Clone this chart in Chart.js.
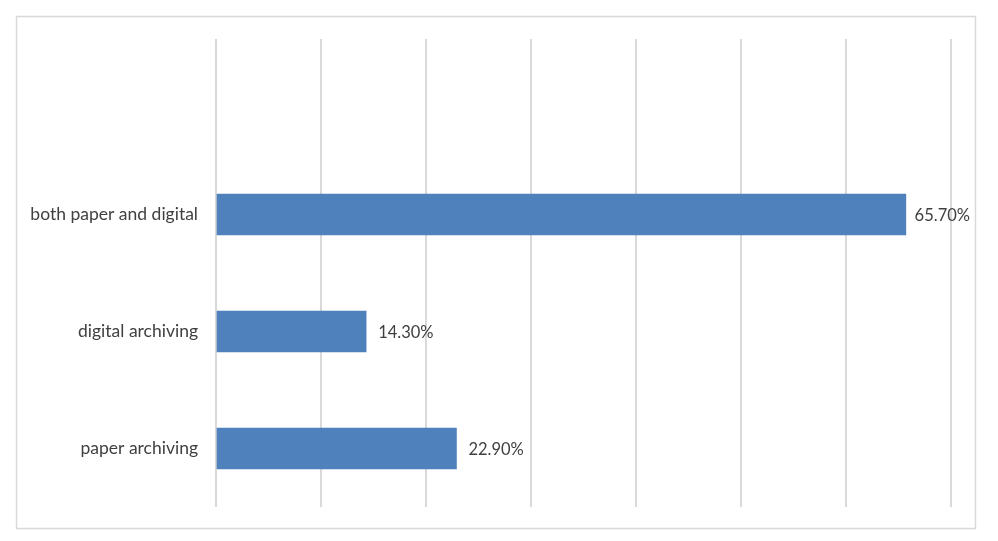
<!DOCTYPE html>
<html>
<head>
<meta charset="utf-8">
<script src="https://cdn.jsdelivr.net/npm/chart.js@4"></script>
<style>
html,body{margin:0;padding:0;background:#fff;}
#wrap{width:998px;height:541px;position:relative;}
</style>
</head>
<body>
<div id="wrap"><canvas id="c" width="998" height="541"></canvas></div>
<script>
const categories = ["", "both paper and digital", "digital archiving", "paper archiving"];
const shares = [null, 65.7, 14.3, 22.9];
const xTicks = [0, 10, 20, 30, 40, 50, 60, 70];

const frame = {
  id: 'frame',
  beforeDraw(chart) {
    const ctx = chart.ctx;
    ctx.save();
    ctx.fillStyle = '#fff';
    ctx.fillRect(0, 0, chart.width, chart.height);
    ctx.strokeStyle = '#d9d9d9';
    ctx.lineWidth = 1.5;
    ctx.strokeRect(16.5, 16.5, 959, 512);
    ctx.restore();
  }
};

const valueLabels = {
  id: 'valueLabels',
  afterDatasetsDraw(chart) {
    const ctx = chart.ctx;
    const meta = chart.getDatasetMeta(0);
    ctx.save();
    ctx.font = '16.5px Lato';
    ctx.fillStyle = '#404040';
    ctx.textAlign = 'left';
    ctx.textBaseline = 'middle';
    const limit = chart.width - 28;
    meta.data.forEach((bar, i) => {
      const v = shares[i];
      if (v == null) return;
      const txt = v.toFixed(2) + '%';
      const w = ctx.measureText(txt).width;
      let x = bar.x + 12;
      if (x + w > limit) x = Math.max(bar.x + 6, limit - w);
      ctx.fillText(txt, x, bar.y + 1);
    });
    ctx.restore();
  }
};

new Chart(document.getElementById('c'), {
  type: 'bar',
  data: {
    labels: categories,
    datasets: [{
      data: shares,
      backgroundColor: '#4f81bd',
      borderWidth: 0,
      barThickness: 41
    }]
  },
  options: {
    indexAxis: 'y',
    responsive: false,
    animation: false,
    events: [],
    layout: { padding: { left: 0, right: 47, top: 39, bottom: 34 } },
    plugins: { legend: { display: false }, tooltip: { enabled: false } },
    scales: {
      x: {
        min: 0, max: 70,
        afterBuildTicks(scale) { scale.ticks = xTicks.map(v => ({ value: v })); },
        ticks: { display: false },
        grid: { color: '#d9d9d9', lineWidth: 2, drawTicks: false },
        border: { display: false }
      },
      y: {
        afterFit(scale) { scale.width = 216; },
        ticks: { color: '#404040', font: { family: 'Lato', size: 17.5 }, padding: 18 },
        grid: { display: false, drawTicks: false },
        border: { display: false }
      }
    }
  },
  plugins: [frame, valueLabels]
});
</script>
</body>
</html>
